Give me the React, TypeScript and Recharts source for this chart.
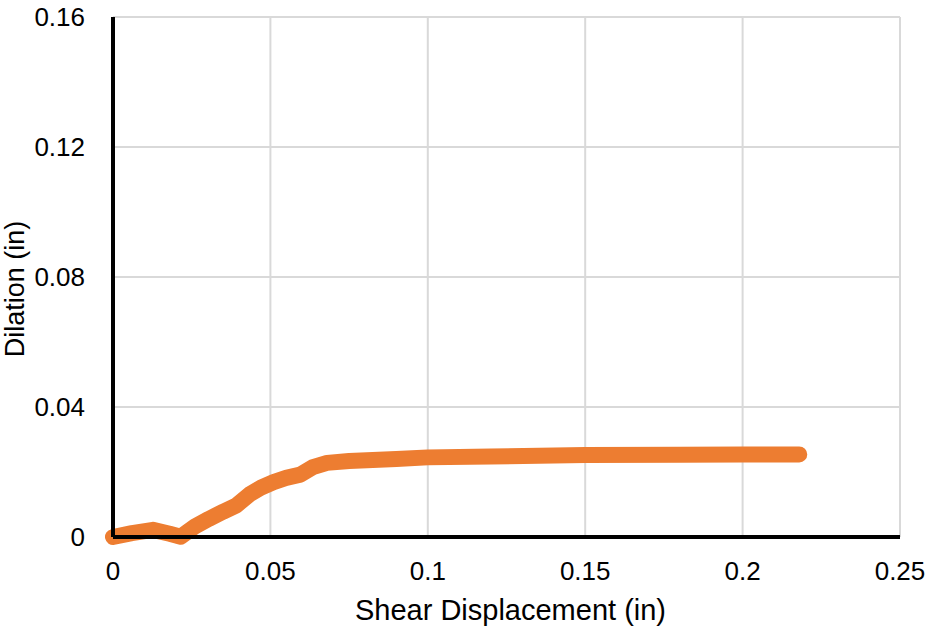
import { LineChart, Line, XAxis, YAxis, CartesianGrid, Label } from 'recharts';

// valores (polegadas)
const shearDisp = [0, 0.006, 0.0127, 0.018, 0.0215, 0.026, 0.0305, 0.035, 0.039, 0.0435, 0.047, 0.051, 0.055, 0.0595, 0.0635, 0.068, 0.075, 0.09, 0.1, 0.12, 0.15, 0.18, 0.2, 0.218];
const dilation = [0, 0.0012, 0.0022, 0.001, 0.0001, 0.0032, 0.0056, 0.0078, 0.0096, 0.0132, 0.0152, 0.0169, 0.0182, 0.0192, 0.0215, 0.0228, 0.0234, 0.024, 0.0245, 0.0248, 0.0252, 0.0253, 0.0254, 0.0254];

const xTicks = [0, 0.05, 0.1, 0.15, 0.2, 0.25];
const yTicks = [0, 0.04, 0.08, 0.12, 0.16];

const font = '"Liberation Sans", Arial, sans-serif';

export default function App() {
  const data = shearDisp.map((x, i) => ({ x, y: dilation[i] }));

  return (
    <div style={{ position: 'absolute', left: 0, top: 0, background: '#fff' }}>
      <LineChart width={928} height={627} data={data} margin={{ top: 17, right: 28, bottom: 0, left: 0 }}>
        <CartesianGrid stroke="#D9D9D9" strokeWidth={2} />
        <XAxis
          dataKey="x"
          type="number"
          domain={[0, 0.25]}
          ticks={xTicks}
          height={90}
          tickSize={0}
          tickMargin={25}
          tickLine={false}
          axisLine={{ stroke: '#000', strokeWidth: 4 }}
          tick={{ fill: '#000', fontSize: 26, fontFamily: font }}
        >
          <Label
            value="Shear Displacement (in)"
            position="insideBottom"
            offset={7}
            dx={4}
            style={{ fill: '#000', fontSize: 29, fontFamily: font }}
          />
        </XAxis>
        <YAxis
          type="number"
          domain={[0, 0.16]}
          ticks={yTicks}
          width={113}
          tickSize={0}
          tickMargin={28}
          tickLine={false}
          axisLine={{ stroke: '#000', strokeWidth: 4 }}
          tick={{ fill: '#000', fontSize: 26, fontFamily: font }}
        >
          <Label
            content={({ viewBox }: any) => {
              const cx = viewBox.x + 15;
              const cy = viewBox.y + viewBox.height / 2 + 12;
              return (
                <text
                  x={cx}
                  y={cy}
                  transform={`rotate(-90, ${cx}, ${cy})`}
                  textAnchor="middle"
                  dominantBaseline="central"
                  fill="#000"
                  fontSize={27}
                  fontFamily={font}
                >
                  Dilation (in)
                </text>
              );
            }}
          />
        </YAxis>
        <Line
          dataKey="y"
          type="linear"
          stroke="#ED7D31"
          strokeWidth={16}
          strokeLinecap="round"
          strokeLinejoin="round"
          dot={false}
          activeDot={false}
          isAnimationActive={false}
        />
      </LineChart>
    </div>
  );
}
